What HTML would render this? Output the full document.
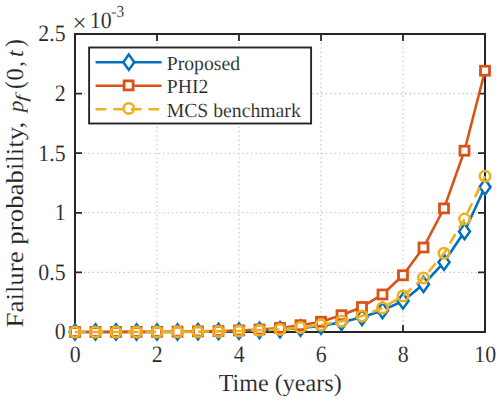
<!DOCTYPE html><html><head><meta charset="utf-8"><style>html,body{margin:0;padding:0;background:#fff;width:500px;height:401px;overflow:hidden}svg{display:block}text{font-family:"Liberation Serif",serif;fill:#262626;text-rendering:geometricPrecision;stroke:#fff;stroke-width:0.12px}</style></head><body>
<svg width="500" height="401" viewBox="0 0 500 401">
<g stroke="#c4c4c4" stroke-width="1.1" stroke-dasharray="1.5 2.9"><line x1="157" y1="34" x2="157" y2="332"/><line x1="239" y1="34" x2="239" y2="332"/><line x1="321" y1="34" x2="321" y2="332"/><line x1="403" y1="34" x2="403" y2="332"/><line x1="75" y1="272.4" x2="485" y2="272.4"/><line x1="75" y1="212.8" x2="485" y2="212.8"/><line x1="75" y1="153.2" x2="485" y2="153.2"/><line x1="75" y1="93.6" x2="485" y2="93.6"/></g>
<path d="M75 332V325M75 34V41M157 332V325M157 34V41M239 332V325M239 34V41M321 332V325M321 34V41M403 332V325M403 34V41M485 332V325M485 34V41M75 332H82M485 332H478M75 272.4H82M485 272.4H478M75 212.8H82M485 212.8H478M75 153.2H82M485 153.2H478M75 93.6H82M485 93.6H478M75 34H82M485 34H478" stroke="#262626" stroke-width="1.8" fill="none"/>
<rect x="75" y="34" width="410" height="298" fill="none" stroke="#262626" stroke-width="2"/>
<polyline points="75,332 95.5,332 116,332 136.5,332 157,332 177.5,332 198,331.76 218.5,331.52 239,331.17 259.5,330.45 280,329.74 300.5,328.07 321,326.04 341.5,322.34 362,317.34 382.5,310.42 403,301.01 423.5,284.32 444,262.27 464.5,231.51 485,186.93" fill="none" stroke="#0072BD" stroke-width="2.6" stroke-linejoin="round"/>
<path d="M75 324.3L80.5 332L75 339.7L69.5 332Z" fill="#fff" stroke="#0072BD" stroke-width="2.5" stroke-linejoin="miter"/><path d="M95.5 324.3L101 332L95.5 339.7L90 332Z" fill="#fff" stroke="#0072BD" stroke-width="2.5" stroke-linejoin="miter"/><path d="M116 324.3L121.5 332L116 339.7L110.5 332Z" fill="#fff" stroke="#0072BD" stroke-width="2.5" stroke-linejoin="miter"/><path d="M136.5 324.3L142 332L136.5 339.7L131 332Z" fill="#fff" stroke="#0072BD" stroke-width="2.5" stroke-linejoin="miter"/><path d="M157 324.3L162.5 332L157 339.7L151.5 332Z" fill="#fff" stroke="#0072BD" stroke-width="2.5" stroke-linejoin="miter"/><path d="M177.5 324.3L183 332L177.5 339.7L172 332Z" fill="#fff" stroke="#0072BD" stroke-width="2.5" stroke-linejoin="miter"/><path d="M198 324.06L203.5 331.76L198 339.46L192.5 331.76Z" fill="#fff" stroke="#0072BD" stroke-width="2.5" stroke-linejoin="miter"/><path d="M218.5 323.82L224 331.52L218.5 339.22L213 331.52Z" fill="#fff" stroke="#0072BD" stroke-width="2.5" stroke-linejoin="miter"/><path d="M239 323.47L244.5 331.17L239 338.87L233.5 331.17Z" fill="#fff" stroke="#0072BD" stroke-width="2.5" stroke-linejoin="miter"/><path d="M259.5 322.75L265 330.45L259.5 338.15L254 330.45Z" fill="#fff" stroke="#0072BD" stroke-width="2.5" stroke-linejoin="miter"/><path d="M280 322.04L285.5 329.74L280 337.44L274.5 329.74Z" fill="#fff" stroke="#0072BD" stroke-width="2.5" stroke-linejoin="miter"/><path d="M300.5 320.37L306 328.07L300.5 335.77L295 328.07Z" fill="#fff" stroke="#0072BD" stroke-width="2.5" stroke-linejoin="miter"/><path d="M321 318.34L326.5 326.04L321 333.74L315.5 326.04Z" fill="#fff" stroke="#0072BD" stroke-width="2.5" stroke-linejoin="miter"/><path d="M341.5 314.64L347 322.34L341.5 330.04L336 322.34Z" fill="#fff" stroke="#0072BD" stroke-width="2.5" stroke-linejoin="miter"/><path d="M362 309.64L367.5 317.34L362 325.04L356.5 317.34Z" fill="#fff" stroke="#0072BD" stroke-width="2.5" stroke-linejoin="miter"/><path d="M382.5 302.72L388 310.42L382.5 318.12L377 310.42Z" fill="#fff" stroke="#0072BD" stroke-width="2.5" stroke-linejoin="miter"/><path d="M403 293.31L408.5 301.01L403 308.71L397.5 301.01Z" fill="#fff" stroke="#0072BD" stroke-width="2.5" stroke-linejoin="miter"/><path d="M423.5 276.62L429 284.32L423.5 292.02L418 284.32Z" fill="#fff" stroke="#0072BD" stroke-width="2.5" stroke-linejoin="miter"/><path d="M444 254.57L449.5 262.27L444 269.97L438.5 262.27Z" fill="#fff" stroke="#0072BD" stroke-width="2.5" stroke-linejoin="miter"/><path d="M464.5 223.81L470 231.51L464.5 239.21L459 231.51Z" fill="#fff" stroke="#0072BD" stroke-width="2.5" stroke-linejoin="miter"/><path d="M485 179.23L490.5 186.93L485 194.63L479.5 186.93Z" fill="#fff" stroke="#0072BD" stroke-width="2.5" stroke-linejoin="miter"/>
<polyline points="75,332 95.5,332 116,331.88 136.5,331.88 157,331.76 177.5,331.64 198,331.4 218.5,331.05 239,330.45 259.5,329.5 280,327.95 300.5,325.21 321,321.75 341.5,315.19 362,306.97 382.5,294.45 403,275.26 423.5,247.49 444,208.39 464.5,150.7 485,70.71" fill="none" stroke="#D95319" stroke-width="2.6" stroke-linejoin="round"/>
<rect x="70.5" y="327.5" width="9" height="9" fill="#fff" stroke="#D95319" stroke-width="2.8"/><rect x="91" y="327.5" width="9" height="9" fill="#fff" stroke="#D95319" stroke-width="2.8"/><rect x="111.5" y="327.38" width="9" height="9" fill="#fff" stroke="#D95319" stroke-width="2.8"/><rect x="132" y="327.38" width="9" height="9" fill="#fff" stroke="#D95319" stroke-width="2.8"/><rect x="152.5" y="327.26" width="9" height="9" fill="#fff" stroke="#D95319" stroke-width="2.8"/><rect x="173" y="327.14" width="9" height="9" fill="#fff" stroke="#D95319" stroke-width="2.8"/><rect x="193.5" y="326.9" width="9" height="9" fill="#fff" stroke="#D95319" stroke-width="2.8"/><rect x="214" y="326.55" width="9" height="9" fill="#fff" stroke="#D95319" stroke-width="2.8"/><rect x="234.5" y="325.95" width="9" height="9" fill="#fff" stroke="#D95319" stroke-width="2.8"/><rect x="255" y="325" width="9" height="9" fill="#fff" stroke="#D95319" stroke-width="2.8"/><rect x="275.5" y="323.45" width="9" height="9" fill="#fff" stroke="#D95319" stroke-width="2.8"/><rect x="296" y="320.71" width="9" height="9" fill="#fff" stroke="#D95319" stroke-width="2.8"/><rect x="316.5" y="317.25" width="9" height="9" fill="#fff" stroke="#D95319" stroke-width="2.8"/><rect x="337" y="310.69" width="9" height="9" fill="#fff" stroke="#D95319" stroke-width="2.8"/><rect x="357.5" y="302.47" width="9" height="9" fill="#fff" stroke="#D95319" stroke-width="2.8"/><rect x="378" y="289.95" width="9" height="9" fill="#fff" stroke="#D95319" stroke-width="2.8"/><rect x="398.5" y="270.76" width="9" height="9" fill="#fff" stroke="#D95319" stroke-width="2.8"/><rect x="419" y="242.99" width="9" height="9" fill="#fff" stroke="#D95319" stroke-width="2.8"/><rect x="439.5" y="203.89" width="9" height="9" fill="#fff" stroke="#D95319" stroke-width="2.8"/><rect x="460" y="146.2" width="9" height="9" fill="#fff" stroke="#D95319" stroke-width="2.8"/><rect x="480.5" y="66.21" width="9" height="9" fill="#fff" stroke="#D95319" stroke-width="2.8"/>
<polyline points="75,332 95.5,332 116,332 136.5,332 157,331.88 177.5,331.76 198,331.64 218.5,331.4 239,330.93 259.5,330.21 280,329.5 300.5,327.47 321,324.97 341.5,321.15 362,315.91 382.5,307.92 403,295.88 423.5,278 444,253.21 464.5,219 485,176.21" fill="none" stroke="#EDB120" stroke-width="2.6" stroke-linejoin="round" stroke-dasharray="10.8 6.8"/>
<circle cx="75" cy="332" r="5.2" fill="none" stroke="#EDB120" stroke-width="2.6"/><circle cx="95.5" cy="332" r="5.2" fill="none" stroke="#EDB120" stroke-width="2.6"/><circle cx="116" cy="332" r="5.2" fill="none" stroke="#EDB120" stroke-width="2.6"/><circle cx="136.5" cy="332" r="5.2" fill="none" stroke="#EDB120" stroke-width="2.6"/><circle cx="157" cy="331.88" r="5.2" fill="none" stroke="#EDB120" stroke-width="2.6"/><circle cx="177.5" cy="331.76" r="5.2" fill="none" stroke="#EDB120" stroke-width="2.6"/><circle cx="198" cy="331.64" r="5.2" fill="none" stroke="#EDB120" stroke-width="2.6"/><circle cx="218.5" cy="331.4" r="5.2" fill="none" stroke="#EDB120" stroke-width="2.6"/><circle cx="239" cy="330.93" r="5.2" fill="none" stroke="#EDB120" stroke-width="2.6"/><circle cx="259.5" cy="330.21" r="5.2" fill="none" stroke="#EDB120" stroke-width="2.6"/><circle cx="280" cy="329.5" r="5.2" fill="none" stroke="#EDB120" stroke-width="2.6"/><circle cx="300.5" cy="327.47" r="5.2" fill="none" stroke="#EDB120" stroke-width="2.6"/><circle cx="321" cy="324.97" r="5.2" fill="none" stroke="#EDB120" stroke-width="2.6"/><circle cx="341.5" cy="321.15" r="5.2" fill="none" stroke="#EDB120" stroke-width="2.6"/><circle cx="362" cy="315.91" r="5.2" fill="none" stroke="#EDB120" stroke-width="2.6"/><circle cx="382.5" cy="307.92" r="5.2" fill="none" stroke="#EDB120" stroke-width="2.6"/><circle cx="403" cy="295.88" r="5.2" fill="none" stroke="#EDB120" stroke-width="2.6"/><circle cx="423.5" cy="278" r="5.2" fill="none" stroke="#EDB120" stroke-width="2.6"/><circle cx="444" cy="253.21" r="5.2" fill="none" stroke="#EDB120" stroke-width="2.6"/><circle cx="464.5" cy="219" r="5.2" fill="none" stroke="#EDB120" stroke-width="2.6"/><circle cx="485" cy="176.21" r="5.2" fill="none" stroke="#EDB120" stroke-width="2.6"/>
<text transform="translate(75.3,361.5) scale(0.93,1)" font-size="23.5" text-anchor="middle">0</text>
<text transform="translate(157.3,361.5) scale(0.93,1)" font-size="23.5" text-anchor="middle">2</text>
<text transform="translate(239.3,361.5) scale(0.93,1)" font-size="23.5" text-anchor="middle">4</text>
<text transform="translate(321.3,361.5) scale(0.93,1)" font-size="23.5" text-anchor="middle">6</text>
<text transform="translate(403.3,361.5) scale(0.93,1)" font-size="23.5" text-anchor="middle">8</text>
<text transform="translate(485.3,361.5) scale(0.93,1)" font-size="23.5" text-anchor="middle">10</text>
<text transform="translate(65.6,339.4) scale(0.93,1)" font-size="23.5" text-anchor="end">0</text>
<text transform="translate(65.6,279.8) scale(0.93,1)" font-size="23.5" text-anchor="end">0.5</text>
<text transform="translate(65.6,220.2) scale(0.93,1)" font-size="23.5" text-anchor="end">1</text>
<text transform="translate(65.6,160.6) scale(0.93,1)" font-size="23.5" text-anchor="end">1.5</text>
<text transform="translate(65.6,101) scale(0.93,1)" font-size="23.5" text-anchor="end">2</text>
<text transform="translate(65.6,41.4) scale(0.93,1)" font-size="23.5" text-anchor="end">2.5</text>
<text x="72.5" y="31" font-size="25">×</text>
<text transform="translate(89.8,28.4) scale(0.93,1)" font-size="23.5">10</text>
<text transform="translate(111.3,17.1) scale(0.9,1)" font-size="17">-3</text>
<text transform="translate(280.2,390.8) scale(0.98,1)" font-size="24.6" text-anchor="middle">Time (years)</text>
<g transform="translate(23.4,326.9) rotate(-90)"><text transform="translate(-0.5,0) scale(1.096,1)" font-size="24.5">Failure probability,</text><text transform="translate(214.6,0) scale(1.06,1)" font-size="22" font-style="italic">p</text><text transform="translate(225,3.4) scale(1.6,1)" font-size="16.5" font-style="italic">f</text><text transform="translate(238,0) scale(0.9,1)" font-size="26">(</text><text x="246.5" y="0" font-size="24.5">0</text><text x="259.9" y="0" font-size="24.5">,</text><text x="269.8" y="0" font-size="24.5" font-style="italic">t</text><text transform="translate(279.8,0) scale(0.9,1)" font-size="26">)</text></g>
<rect x="89.1" y="47.5" width="222" height="76" fill="#fff" stroke="#262626" stroke-width="1.9"/>
<line x1="95.6" y1="62.2" x2="161.6" y2="62.2" stroke="#0072BD" stroke-width="2.4"/>
<path d="M128.8 54.5L134.3 62.2L128.8 69.9L123.3 62.2Z" fill="#fff" stroke="#0072BD" stroke-width="2.5" stroke-linejoin="miter"/>
<text transform="translate(166.7,69.6) scale(0.985,1)" font-size="20">Proposed</text>
<line x1="95.6" y1="85.7" x2="161.6" y2="85.7" stroke="#D95319" stroke-width="2.4"/>
<rect x="124.1" y="80.9" width="9" height="9" fill="#fff" stroke="#D95319" stroke-width="2.8"/>
<text transform="translate(166.7,93.1) scale(0.985,1)" font-size="20">PHI2</text>
<line x1="95.6" y1="109.2" x2="161.6" y2="109.2" stroke="#EDB120" stroke-width="2.4" stroke-dasharray="10.8 6.8"/>
<circle cx="128.8" cy="108.4" r="5.2" fill="none" stroke="#EDB120" stroke-width="2.6"/>
<text transform="translate(166.7,116.6) scale(0.985,1)" font-size="20">MCS benchmark</text>
</svg></body></html>
